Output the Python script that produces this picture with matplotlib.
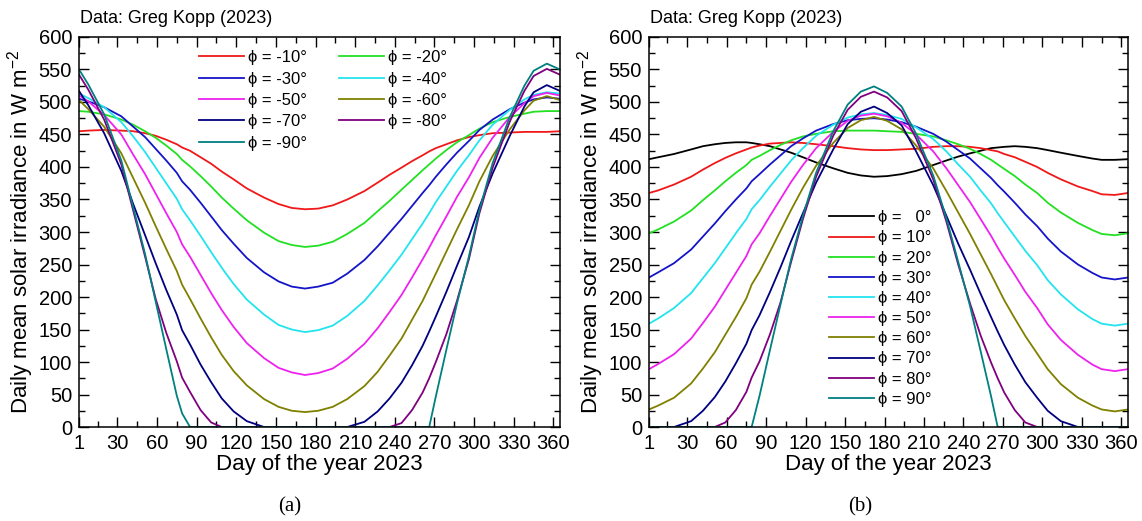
import matplotlib
matplotlib.use("Agg")
import matplotlib.pyplot as plt
from matplotlib.ticker import MultipleLocator

plt.rcParams['font.family'] = ['Liberation Sans', 'DejaVu Sans']
plt.rcParams['mathtext.fontset'] = 'custom'
plt.rcParams['mathtext.rm'] = 'Liberation Sans'
plt.rcParams['mathtext.it'] = 'Liberation Sans:italic'

# day of year shared by every series
days = [1, 8, 20, 33, 42, 51, 59, 67, 75, 79, 85, 93, 101, 109, 118, 128,
        141, 152, 162, 172, 182, 193, 204, 217, 227, 236, 245, 253, 261, 266,
        271, 279, 287, 296, 304, 314, 327, 338, 345, 355, 365]

# southern latitudes, W m-2 (panel a)
s10 = [455, 456, 457, 456, 455, 452, 448, 442, 435, 430, 425, 415, 405, 393,
       381, 367, 353, 343, 337, 335, 336, 341, 350, 363, 376, 388, 399, 409,
       418, 424, 429, 435, 441, 446, 449, 452, 453, 454, 454, 454, 455]
s20 = [486, 485, 481, 473, 465, 455, 445, 433, 420, 411, 401, 386, 370, 353,
       336, 318, 299, 286, 280, 277, 279, 285, 297, 314, 332, 348, 365, 380,
       395, 404, 413, 426, 438, 449, 459, 469, 477, 482, 485, 486, 486]
s30 = [505, 501, 492, 478, 462, 446, 428, 410, 391, 378, 365, 345, 324, 303,
       282, 260, 238, 224, 216, 213, 216, 222, 236, 257, 278, 299, 320, 340,
       360, 372, 385, 404, 422, 440, 457, 473, 489, 499, 504, 507, 505]
s40 = [513, 506, 492, 469, 447, 423, 399, 375, 351, 335, 318, 294, 269, 245,
       220, 196, 173, 157, 150, 146, 149, 156, 171, 194, 218, 241, 265, 289,
       313, 329, 346, 370, 394, 418, 441, 465, 488, 504, 511, 515, 513]
s50 = [510, 501, 480, 450, 419, 389, 359, 329, 300, 281, 262, 234, 206, 180,
       154, 129, 106, 91, 84, 80, 83, 90, 105, 128, 152, 177, 203, 230,
       258, 276, 295, 324, 354, 384, 414, 445, 477, 498, 509, 514, 510]
s60 = [503, 489, 462, 421, 383, 345, 309, 274, 240, 219, 197, 167, 138, 111,
       86, 64, 43, 31, 25, 23, 25, 31, 43, 63, 85, 110, 136, 165,
       194, 215, 236, 270, 304, 341, 378, 417, 458, 487, 502, 509, 503]
s70 = [517, 495, 452, 394, 343, 295, 252, 211, 173, 149, 127, 96, 69, 44,
       24, 9, 0, 0, 0, 0, 0, 0, 0, 8, 24, 44, 68, 95,
       125, 147, 170, 208, 248, 292, 339, 390, 448, 493, 515, 526, 517]
s80 = [542, 519, 473, 404, 333, 262, 197, 145, 101, 76, 54, 26, 7, 0,
       0, 0, 0, 0, 0, 0, 0, 0, 0, 0, 0, 0, 6, 26,
       53, 75, 100, 143, 194, 258, 329, 399, 470, 517, 540, 551, 542]
s90 = [550, 527, 481, 410, 338, 266, 193, 120, 48, 21, 0, 0, 0, 0,
       0, 0, 0, 0, 0, 0, 0, 0, 0, 0, 0, 0, 0, 0,
       0, 0, 47, 119, 190, 262, 334, 406, 477, 525, 548, 559, 550]

# northern latitudes, W m-2 (panel b)
n0 = [412, 415, 420, 427, 432, 435, 437, 438, 438, 437, 435, 432, 427, 422,
      415, 407, 398, 391, 387, 385, 386, 389, 394, 403, 410, 416, 421, 425,
      429, 430, 431, 432, 431, 429, 426, 422, 417, 413, 411, 411, 412]
n10 = [360, 364, 373, 385, 396, 406, 414, 421, 427, 430, 433, 436, 437, 438,
       437, 435, 432, 429, 427, 426, 426, 427, 428, 431, 432, 432, 431, 429,
       426, 424, 420, 415, 408, 400, 391, 381, 370, 363, 358, 357, 360]
n20 = [298, 304, 316, 333, 349, 364, 378, 391, 403, 411, 417, 426, 434, 441,
       447, 451, 455, 456, 456, 456, 455, 454, 451, 447, 441, 435, 428, 420,
       411, 404, 397, 386, 373, 360, 345, 330, 314, 303, 297, 295, 298]
n30 = [230, 238, 252, 273, 293, 313, 332, 350, 367, 378, 389, 404, 418, 432,
       444, 456, 466, 472, 474, 475, 473, 469, 462, 451, 439, 426, 413, 398,
       383, 372, 362, 345, 327, 309, 290, 270, 250, 237, 230, 227, 230]
n40 = [159, 167, 183, 206, 229, 252, 275, 298, 320, 335, 349, 370, 390, 410,
       429, 448, 465, 476, 481, 483, 480, 474, 461, 443, 424, 404, 385, 364,
       344, 329, 315, 293, 271, 249, 226, 204, 181, 166, 159, 156, 159]
n50 = [89, 97, 112, 136, 160, 185, 211, 237, 263, 281, 298, 325, 351, 377,
       403, 429, 454, 471, 479, 482, 478, 468, 450, 424, 398, 372, 346, 320,
       294, 276, 259, 234, 208, 183, 158, 134, 111, 96, 89, 86, 89]
n60 = [27, 33, 45, 67, 90, 115, 142, 169, 198, 219, 239, 270, 302, 334,
       368, 402, 437, 460, 472, 477, 471, 458, 433, 398, 363, 330, 297, 266,
       235, 215, 195, 167, 140, 113, 89, 66, 45, 33, 27, 24, 27]
n70 = [0, 0, 0, 9, 25, 46, 70, 98, 128, 149, 172, 208, 246, 286,
       329, 376, 427, 466, 485, 493, 483, 464, 424, 372, 325, 282, 242, 205,
       169, 147, 126, 96, 69, 45, 25, 9, 0, 0, 0, 0, 0]
n80 = [0, 0, 0, 0, 0, 0, 7, 26, 54, 76, 101, 143, 192, 254,
       320, 385, 448, 488, 508, 516, 507, 486, 444, 381, 316, 250, 190, 141,
       99, 75, 53, 26, 7, 0, 0, 0, 0, 0, 0, 0, 0]
n90 = [0, 0, 0, 0, 0, 0, 0, 0, 0, 0, 48, 119, 189, 258,
       325, 391, 455, 496, 516, 524, 514, 493, 451, 387, 321, 254, 186, 117,
       47, 0, 0, 0, 0, 0, 0, 0, 0, 0, 0, 0, 0]

colors = {0: 'black', 10: '#f01818', 20: '#22e022', 30: '#1414c8',
          40: '#22e4ee', 50: '#ee22ee', 60: '#808000', 70: '#000080',
          80: '#800080', 90: '#008080'}

xticks = [1] + list(range(30, 361, 30))


def style_axes(ax):
    ax.set_xlim(1, 365)
    ax.set_ylim(0, 600)
    ax.set_xticks(xticks)
    ax.xaxis.set_minor_locator(MultipleLocator(15))
    ax.yaxis.set_major_locator(MultipleLocator(50))
    ax.yaxis.set_minor_locator(MultipleLocator(25))
    ax.tick_params(which='both', direction='in', top=True, right=True,
                   labelsize=14.5, width=1, pad=5)
    ax.tick_params(which='major', length=7)
    ax.tick_params(which='minor', length=4)
    for sp in ax.spines.values():
        sp.set_linewidth(1.1)
    ax.set_xlabel('Day of the year 2023', fontsize=16, labelpad=1)
    ax.set_ylabel('Daily mean solar irradiance in W m$^{-2}$', fontsize=16,
                  labelpad=2)


fig = plt.figure(figsize=(11.42, 5.21), dpi=100)
ax1 = fig.add_axes([0.0692, 0.1804, 0.4212, 0.7486])
ax2 = fig.add_axes([0.5683, 0.1804, 0.4194, 0.7486])

lw = 1.3

# panel (a)
south = [(-10, s10), (-20, s20), (-30, s30), (-40, s40), (-50, s50),
         (-60, s60), (-70, s70), (-80, s80), (-90, s90)]
lines_a = {}
for lat, v in south:
    ln, = ax1.plot(days, v, color=colors[-lat], lw=lw, label='ϕ = %d°' % lat)
    lines_a[lat] = ln
order = [-10, -30, -50, -70, -90, -20, -40, -60, -80]
ax1.legend([lines_a[k] for k in order], [lines_a[k].get_label() for k in order],
           ncol=2, loc='upper left', bbox_to_anchor=(0.222, 1.0),
           frameon=False, fontsize=12, handlelength=2.7,
           handletextpad=0.25, labelspacing=0.38, columnspacing=1.9,
           borderpad=0.3)
style_axes(ax1)

# panel (b)
north = [(0, n0), (10, n10), (20, n20), (30, n30), (40, n40), (50, n50),
         (60, n60), (70, n70), (80, n80), (90, n90)]
for lat, v in north:
    lab = 'ϕ =   0°' if lat == 0 else 'ϕ = %d°' % lat
    ax2.plot(days, v, color=colors[lat], lw=lw, label=lab)
ax2.legend(loc='upper left', bbox_to_anchor=(0.3475, 0.59), frameon=False,
           fontsize=12, handlelength=2.7, handletextpad=0.25,
           labelspacing=0.31, borderpad=0.3)
style_axes(ax2)

fig.text(0.0700, 0.965, 'Data: Greg Kopp (2023)', fontsize=13, va='center')
fig.text(0.5690, 0.965, 'Data: Greg Kopp (2023)', fontsize=13, va='center')
fig.text(0.254, 0.027, '(a)', fontsize=15, ha='center', va='center',
         family=['Liberation Serif', 'DejaVu Serif'])
fig.text(0.753, 0.027, '(b)', fontsize=15, ha='center', va='center',
         family=['Liberation Serif', 'DejaVu Serif'])

fig.savefig('out.png', dpi=100)
